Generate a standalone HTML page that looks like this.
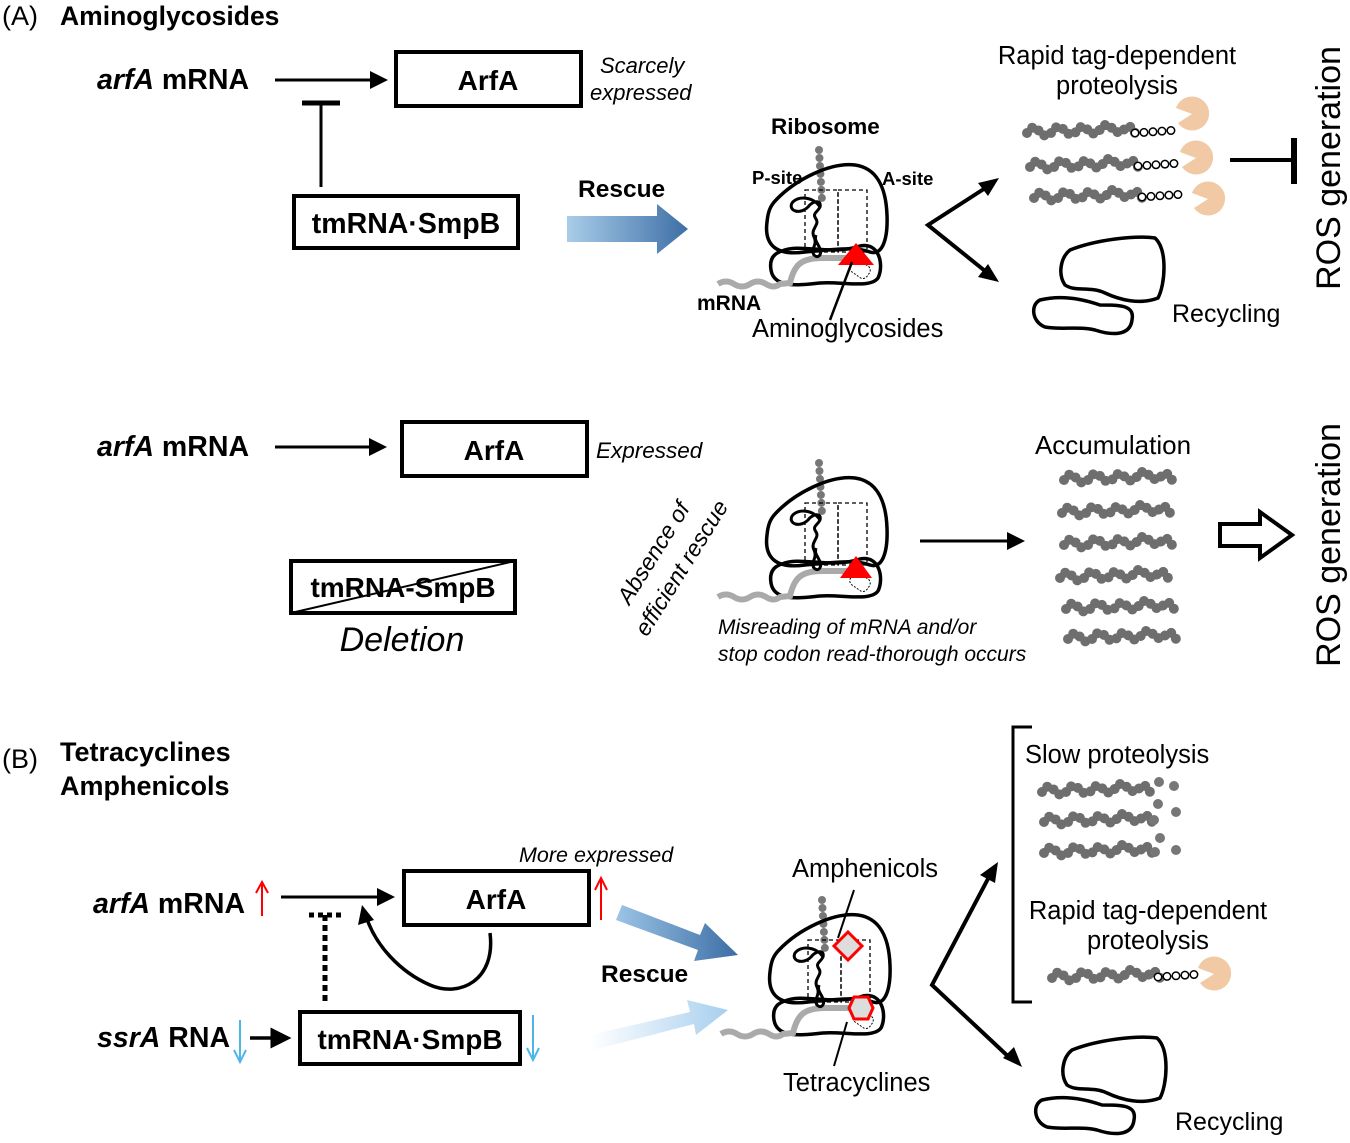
<!DOCTYPE html>
<html><head><meta charset="utf-8">
<style>
html,body{margin:0;padding:0;background:#fff}
svg{display:block}
text{font-family:"Liberation Sans",Arial,sans-serif;fill:#000}
.b{font-weight:bold}
.i{font-style:italic}
</style></head>
<body>
<svg width="1350" height="1143" viewBox="0 0 1350 1143" xmlns="http://www.w3.org/2000/svg">
<defs>
<marker id="ah" markerWidth="6" markerHeight="6" refX="5" refY="3" orient="auto" markerUnits="strokeWidth">
<path d="M0,0 L6,3 L0,6 Z" fill="#000"/></marker>
<linearGradient id="gA" x1="0" x2="1" y1="0" y2="0"><stop offset="0" stop-color="#a9cde9"/><stop offset="1" stop-color="#3d6fa6"/></linearGradient>
<linearGradient id="gB" x1="0" x2="1" y1="0" y2="0"><stop offset="0" stop-color="#9cc4e6"/><stop offset="1" stop-color="#3c6ea5"/></linearGradient>
<linearGradient id="gC" x1="0" x2="1" y1="0" y2="0"><stop offset="0" stop-color="#ffffff"/><stop offset="1" stop-color="#a8cfee"/></linearGradient>
<g id="chain">
<path d="M0,0 q6,-10 12,-2 q6,8 12,2 q6,-10 12,-4 q6,8 12,4 q6,-10 12,-4 q6,8 12,2 q6,-10 12,-4 q6,8 12,4 q6,-10 12,2" fill="none" stroke="#6e6e6e" stroke-width="10" stroke-dasharray="0 7.5" stroke-linecap="round"/>
</g>
<g id="tag">
<path d="M0,-2 L44,-5" fill="none" stroke="#000" stroke-width="9" stroke-dasharray="0 9" stroke-linecap="round"/>
<path d="M0,-2 L44,-5" fill="none" stroke="#fff" stroke-width="6" stroke-dasharray="0 9" stroke-linecap="round"/>
</g>
<g id="pac"><path d="M0,0 L-16,-6 A17,17 0 1 1 -14,9 Z" fill="#f1c9a4"/></g>
<g id="ribo">
<path d="M819,150 L822,200" stroke="#777" stroke-width="8" stroke-dasharray="0 8" stroke-linecap="round" fill="none"/>
<path d="M776,200 C795,180 830,162 855,165 C877,168 886,188 887,215 C888,240 882,256 870,252 C855,246 830,250 805,252 C776,256 764,245 767,222 C768,212 770,206 776,200 Z" fill="none" stroke="#000" stroke-width="3.5"/>
<path d="M782,251 C800,243 830,256 860,246 C880,242 884,266 878,278 C870,289 840,281 820,283 C800,285 774,289 771,270 C769,258 775,253 782,251 Z" fill="none" stroke="#000" stroke-width="3.5"/>
<path d="M718,284 q8,-5 16,0 t16,0 t16,0 t14,0 L790,283 C794,266 800,258 822,258 L856,258" fill="none" stroke="#aaa" stroke-width="6"/>
<rect x="805" y="190" width="33" height="62" fill="none" stroke="#000" stroke-width="1.3" stroke-dasharray="4 3"/>
<rect x="838" y="190" width="29" height="62" fill="none" stroke="#000" stroke-width="1.3" stroke-dasharray="4 3"/>
<path d="M820,207 c-6,-10 -22,-12 -28,-4 c-4,8 8,12 16,4 c4,-6 14,-8 12,0 c-3,6 -8,6 -4,12 c4,6 -6,10 -2,18 c4,8 -4,12 0,18 c4,4 8,0 6,-6 c-2,-6 -6,-8 -4,-14" fill="none" stroke="#000" stroke-width="3"/>
<rect x="850" y="262" width="20" height="14" rx="5" transform="rotate(35 860 269)" fill="none" stroke="#000" stroke-width="1" stroke-dasharray="2 1.5"/>
</g>
<g id="recyc">
<path d="M1070,250 C1095,240 1135,235 1155,238 C1168,250 1165,285 1158,298 C1140,305 1120,300 1105,293 C1090,286 1075,292 1065,285 C1058,275 1060,258 1070,250 Z" fill="none" stroke="#000" stroke-width="3.5"/>
<path d="M1040,300 C1060,295 1080,298 1100,305 C1120,305 1135,305 1132,320 C1130,337 1110,335 1095,330 C1080,326 1060,330 1045,327 C1032,322 1030,305 1040,300 Z" fill="none" stroke="#000" stroke-width="3.5"/>
</g>
</defs>

<!-- ===== Panel A top ===== -->
<text x="2" y="25" font-size="27">(A)</text>
<text x="60" y="25" font-size="26.5" class="b">Aminoglycosides</text>
<text x="97" y="89" font-size="28.5" class="b"><tspan class="i">arfA</tspan> mRNA</text>
<line x1="275" y1="80" x2="385" y2="80" stroke="#000" stroke-width="3" marker-end="url(#ah)"/>
<rect x="396" y="52" width="185" height="54" fill="none" stroke="#000" stroke-width="4"/>
<text x="488" y="90" font-size="28" class="b" text-anchor="middle">ArfA</text>
<text x="600" y="73" font-size="22" class="i">Scarcely</text>
<text x="590" y="100" font-size="22" class="i">expressed</text>
<line x1="321" y1="187" x2="321" y2="104" stroke="#000" stroke-width="3"/>
<line x1="302" y1="103" x2="340" y2="103" stroke="#000" stroke-width="5"/>
<rect x="294" y="196" width="224" height="52" fill="none" stroke="#000" stroke-width="4"/>
<text x="406" y="233" font-size="28.5" class="b" text-anchor="middle">tmRNA·SmpB</text>
<text x="578" y="197" font-size="24.5" class="b">Rescue</text>
<path d="M567,216 L657,216 L657,204 L688,229 L657,254 L657,242 L567,242 Z" fill="url(#gA)"/>
<use href="#ribo"/>
<path d="M838,265 L856,243 L874,265 Z" fill="#f00"/>
<line x1="830" y1="320" x2="852" y2="262" stroke="#000" stroke-width="2.5"/>
<text x="771" y="134" font-size="22.5" class="b">Ribosome</text>
<text x="752" y="184" font-size="18.5" class="b">P-site</text>
<text x="882" y="185" font-size="18.5" class="b">A-site</text>
<text x="697" y="310" font-size="21" class="b">mRNA</text>
<text x="752" y="337" font-size="25.5">Aminoglycosides</text>
<path d="M990,185 L928,225 L990,275" fill="none" stroke="#000" stroke-width="4"/>
<path d="M999,178 L978,183 L988,196 Z" fill="#000"/>
<path d="M999,282 L978,277 L988,264 Z" fill="#000"/>
<text x="1117" y="64" font-size="25.5" text-anchor="middle">Rapid tag-dependent</text>
<text x="1117" y="94" font-size="25.5" text-anchor="middle">proteolysis</text>
<use href="#chain" x="1027" y="133"/><use href="#tag" x="1135" y="135"/>
<use href="#chain" x="1030" y="167"/><use href="#tag" x="1138" y="168"/>
<use href="#chain" x="1034" y="198"/><use href="#tag" x="1142" y="199"/>
<use href="#pac" x="1192" y="114"/><use href="#pac" x="1196" y="158"/><use href="#pac" x="1208" y="199"/>
<line x1="1230" y1="160" x2="1293" y2="160" stroke="#000" stroke-width="4"/>
<line x1="1294" y1="138" x2="1294" y2="184" stroke="#000" stroke-width="6"/>
<use href="#recyc"/>
<text x="1172" y="322" font-size="25">Recycling</text>
<text transform="translate(1340,168) rotate(-90)" font-size="34" text-anchor="middle">ROS generation</text>

<!-- ===== Panel A bottom ===== -->
<text x="97" y="456" font-size="28.5" class="b"><tspan class="i">arfA</tspan> mRNA</text>
<line x1="275" y1="447" x2="384" y2="447" stroke="#000" stroke-width="3" marker-end="url(#ah)"/>
<rect x="402" y="422" width="185" height="54" fill="none" stroke="#000" stroke-width="4"/>
<text x="494" y="460" font-size="28" class="b" text-anchor="middle">ArfA</text>
<text x="596" y="458" font-size="22.5" class="i">Expressed</text>
<rect x="291" y="561" width="224" height="52" fill="none" stroke="#000" stroke-width="4"/>
<text x="403" y="597" font-size="28" class="b" text-anchor="middle">tmRNA-SmpB</text>
<line x1="291" y1="613" x2="515" y2="561" stroke="#000" stroke-width="2"/>
<text x="402" y="651" font-size="34" class="i" text-anchor="middle">Deletion</text>
<text transform="translate(660,557) rotate(-58)" font-size="23" class="i" text-anchor="middle">Absence of</text>
<text transform="translate(688,572) rotate(-58)" font-size="23" class="i" text-anchor="middle">efficient rescue</text>
<use href="#ribo" y="313"/>
<path d="M840,578 L856,556 L872,578 Z" fill="#f00"/>
<line x1="920" y1="541" x2="1022" y2="541" stroke="#000" stroke-width="3" marker-end="url(#ah)"/>
<text x="718" y="634" font-size="21" class="i">Misreading of mRNA and/or</text>
<text x="718" y="661" font-size="21" class="i">stop codon read-thorough occurs</text>
<text x="1113" y="454" font-size="26" text-anchor="middle">Accumulation</text>
<use href="#chain" x="1064" y="480"/>
<use href="#chain" x="1062" y="513"/>
<use href="#chain" x="1064" y="545"/>
<use href="#chain" x="1060" y="578"/>
<use href="#chain" x="1066" y="609"/>
<use href="#chain" x="1068" y="639"/>
<path d="M1220,524 L1260,524 L1260,512 L1292,535 L1260,558 L1260,546 L1220,546 Z" fill="#fff" stroke="#000" stroke-width="4"/>
<text transform="translate(1340,545) rotate(-90)" font-size="34" text-anchor="middle">ROS generation</text>

<!-- ===== Panel B ===== -->
<text x="2" y="768" font-size="27">(B)</text>
<text x="60" y="761" font-size="27" class="b">Tetracyclines</text>
<text x="60" y="795" font-size="27" class="b">Amphenicols</text>
<text x="93" y="913" font-size="28.5" class="b"><tspan class="i">arfA</tspan> mRNA</text>
<line x1="262" y1="916" x2="262" y2="884" stroke="#f00" stroke-width="2"/>
<path d="M256,893 L262,882 L268,893" fill="none" stroke="#f00" stroke-width="2"/>
<line x1="281" y1="897" x2="392" y2="897" stroke="#000" stroke-width="3" marker-end="url(#ah)"/>
<rect x="404" y="871" width="185" height="54" fill="none" stroke="#000" stroke-width="4"/>
<text x="496" y="909" font-size="28" class="b" text-anchor="middle">ArfA</text>
<line x1="601" y1="920" x2="601" y2="880" stroke="#f00" stroke-width="2"/>
<path d="M595,890 L601,878 L607,890" fill="none" stroke="#f00" stroke-width="2"/>
<text x="519" y="862" font-size="21.5" class="i">More expressed</text>
<line x1="309" y1="915" x2="345" y2="915" stroke="#000" stroke-width="5" stroke-dasharray="5 4"/>
<line x1="325" y1="915" x2="325" y2="1005" stroke="#000" stroke-width="5" stroke-dasharray="6 4"/>
<path d="M490,933 C496,980 460,998 430,985 C400,972 375,945 366,916" fill="none" stroke="#000" stroke-width="3.5"/>
<path d="M362,905 L358,925 L374,920 Z" fill="#000"/>
<text x="97" y="1047" font-size="28.5" class="b"><tspan class="i">ssrA</tspan> RNA</text>
<line x1="240" y1="1020" x2="240" y2="1060" stroke="#4db5ea" stroke-width="2"/>
<path d="M234,1050 L240,1062 L246,1050" fill="none" stroke="#4db5ea" stroke-width="2"/>
<line x1="250" y1="1038" x2="288" y2="1038" stroke="#000" stroke-width="3.5" marker-end="url(#ah)"/>
<rect x="300" y="1012" width="220" height="52" fill="none" stroke="#000" stroke-width="4"/>
<text x="410" y="1049" font-size="28" class="b" text-anchor="middle">tmRNA·SmpB</text>
<line x1="533" y1="1015" x2="533" y2="1058" stroke="#4db5ea" stroke-width="2"/>
<path d="M527,1048 L533,1060 L539,1048" fill="none" stroke="#4db5ea" stroke-width="2"/>
<text x="601" y="982" font-size="24.5" class="b">Rescue</text>
<path d="M622,905 L700,935 L705,923 L738,955 L694,961 L698,950 L616,920 Z" fill="url(#gB)"/>
<path d="M590,1035 L690,1012 L687,1000 L728,1010 L696,1035 L694,1024 L593,1050 Z" fill="url(#gC)"/>
<use href="#ribo" x="3" y="750"/>
<path d="M848,932 L862,946 L848,960 L834,946 Z" fill="#ddd" stroke="#f00" stroke-width="3"/>
<path d="M854,997 L868,997 L873,1008 L868,1019 L854,1019 L849,1008 Z" fill="#ddd" stroke="#f00" stroke-width="3"/>
<line x1="854" y1="890" x2="838" y2="938" stroke="#000" stroke-width="2"/>
<line x1="834" y1="1066" x2="847" y2="1022" stroke="#000" stroke-width="2"/>
<text x="792" y="877" font-size="25.5">Amphenicols</text>
<text x="783" y="1091" font-size="25.5">Tetracyclines</text>
<path d="M990,875 L932,985 L1012,1060" fill="none" stroke="#000" stroke-width="4"/>
<path d="M998,862 L980,875 L995,883 Z" fill="#000"/>
<path d="M1022,1067 L1003,1058 L1014,1047 Z" fill="#000"/>
<path d="M1032,727 L1013,727 L1013,1002 L1032,1002" fill="none" stroke="#000" stroke-width="3"/>
<text x="1025" y="763" font-size="25.5">Slow proteolysis</text>
<use href="#chain" x="1042" y="792"/>
<use href="#chain" x="1044" y="822"/>
<use href="#chain" x="1044" y="853"/>
<g fill="#777">
<circle cx="1159" cy="782" r="5"/><circle cx="1174" cy="786" r="5"/><circle cx="1158" cy="804" r="5"/>
<circle cx="1176" cy="812" r="5"/><circle cx="1154" cy="820" r="5"/><circle cx="1160" cy="838" r="5"/>
<circle cx="1155" cy="852" r="5"/><circle cx="1176" cy="850" r="5"/>
</g>
<text x="1148" y="919" font-size="25.5" text-anchor="middle">Rapid tag-dependent</text>
<text x="1148" y="949" font-size="25.5" text-anchor="middle">proteolysis</text>
<use href="#chain" x="1052" y="978"/><use href="#tag" x="1158" y="979"/>
<use href="#pac" x="1214" y="974"/>
<use href="#recyc" x="2" y="800"/>
<text x="1175" y="1130" font-size="25">Recycling</text>
</svg>
</body></html>
